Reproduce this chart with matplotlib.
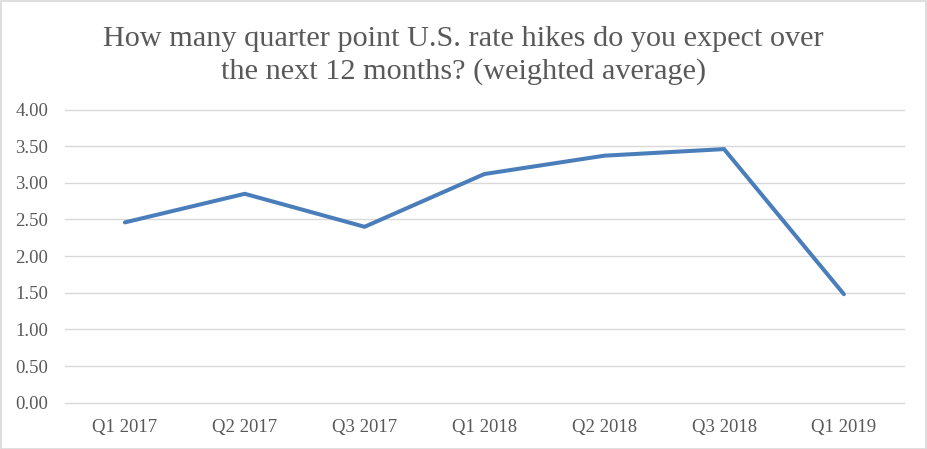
import matplotlib
matplotlib.use("Agg")
import matplotlib.pyplot as plt
from matplotlib.patches import Rectangle

quarters = ["Q1 2017", "Q2 2017", "Q3 2017", "Q1 2018", "Q2 2018", "Q3 2018", "Q1 2019"]
hikes = [2.46, 2.85, 2.40, 3.12, 3.37, 3.46, 1.48]
yticks = [0.0, 0.5, 1.0, 1.5, 2.0, 2.5, 3.0, 3.5, 4.0]

TEXT = "#595959"
GRID = "#D9D9D9"
BLUE = "#4A7EBB"
SERIF = "Liberation Serif"

fig = plt.figure(figsize=(9.27, 4.49), dpi=100)
ax = fig.add_axes([0.0701, 0.1031, 0.9049, 0.6530])

xs = range(len(quarters))
ax.plot(xs, hikes, color=BLUE, lw=2.9, solid_capstyle="round", solid_joinstyle="miter", zorder=3)

ax.set_xlim(-0.5, len(quarters) - 0.5)
ax.set_ylim(0, 4)
ax.set_yticks(yticks)
ax.set_yticklabels([f"{v:.2f}" for v in yticks])
ax.set_xticks(list(xs))
ax.set_xticklabels(quarters)
ax.grid(axis="y", color=GRID, lw=1.0, zorder=0)
for gl in ax.get_ygridlines():
    gl.set_clip_on(False)
ax.set_axisbelow(True)
for s in ax.spines.values():
    s.set_visible(False)
ax.tick_params(length=0, colors=TEXT, labelsize=13.5)
ax.tick_params(axis="x", pad=12)
ax.tick_params(axis="y", pad=12)
for lab in ax.get_xticklabels() + ax.get_yticklabels():
    lab.set_fontfamily(SERIF)

fig.text(0.5, 0.877, "How many quarter point U.S. rate hikes do you expect over\nthe next 12 months? (weighted average)",
         ha="center", va="center", fontsize=21.8, color=TEXT, family=SERIF, linespacing=1.3)

fig.patches.append(Rectangle((0.5 / 927, 0.5 / 449), 1 - 1.5 / 927, 1 - 1.5 / 449,
                             transform=fig.transFigure, fill=False, ec=GRID, lw=1.2))

fig.savefig("out.png", dpi=100)
